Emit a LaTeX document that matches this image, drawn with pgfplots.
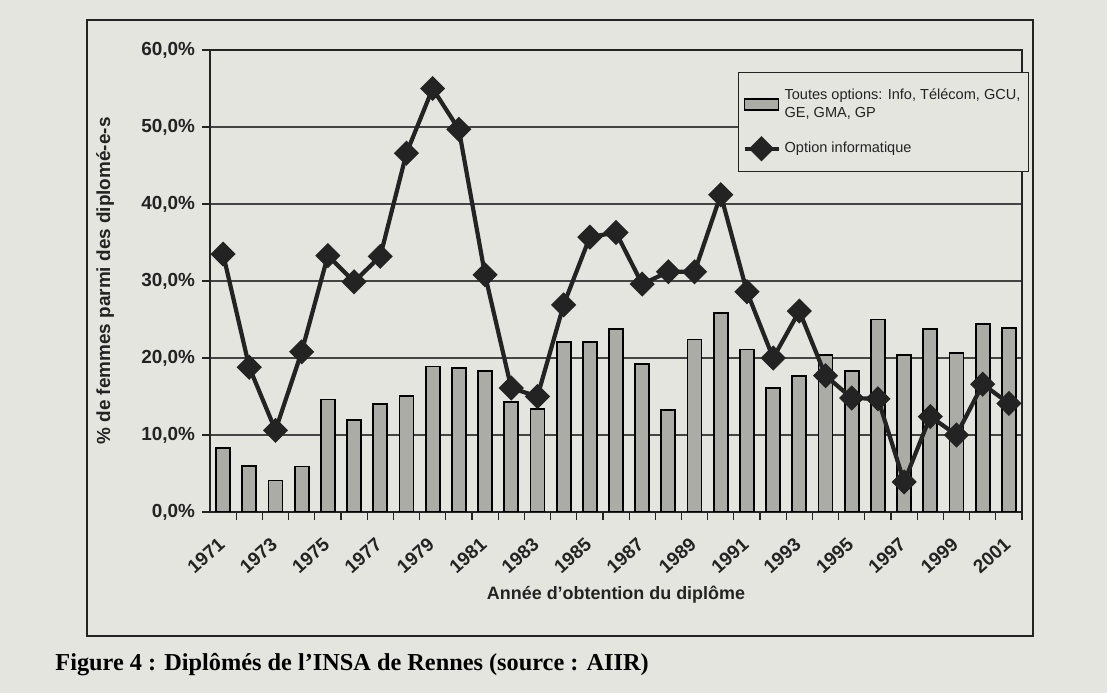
\documentclass[border=0pt]{standalone}
\usepackage{pgfplots}
\pgfplotsset{compat=1.18}
\usepackage{fontspec}
\setmainfont{Liberation Sans}
\newfontfamily\capfont{Liberation Serif}
\definecolor{paper}{RGB}{229,229,224}
\definecolor{barfill}{RGB}{172,172,166}
\definecolor{ink}{RGB}{35,35,35}

\pgfplotstableread{
year val
1971 8.3
1972 6.0
1973 4.1
1974 5.9
1975 14.6
1976 11.9
1977 14.0
1978 15.1
1979 18.9
1980 18.7
1981 18.3
1982 14.3
1983 13.4
1984 22.1
1985 22.1
1986 23.8
1987 19.2
1988 13.2
1989 22.4
1990 25.8
1991 21.1
1992 16.1
1993 17.7
1994 20.4
1995 18.3
1996 25.0
1997 20.4
1998 23.8
1999 20.7
2000 24.4
2001 23.9
}\toutes

\pgfplotstableread{
year val
1971 33.5
1972 18.8
1973 10.6
1974 20.8
1975 33.3
1976 29.9
1977 33.2
1978 46.6
1979 55.0
1980 49.7
1981 30.8
1982 16.1
1983 15.0
1984 26.9
1985 35.7
1986 36.3
1987 29.6
1988 31.2
1989 31.2
1990 41.2
1991 28.6
1992 20.0
1993 26.1
1994 17.7
1995 14.8
1996 14.7
1997 3.9
1998 12.4
1999 10.0
2000 16.6
2001 14.1
}\info

\begin{document}
\begin{tikzpicture}
\fill[paper] (0bp,0bp) rectangle (553.5bp,346.5bp);
\draw[ink, line width=0.7bp] (43.5bp,28.5bp) rectangle (516.5bp,336.5bp);
\node[anchor=west, inner sep=0pt, font=\capfont\bfseries\fontsize{12.2}{14}\selectfont] at (27.5bp,14bp)
  {Figure 4 : Diplômés de l’INSA de Rennes (source : AIIR)};
\begin{axis}[
  at={(105bp,90.5bp)}, anchor=south west,
  scale only axis, width=406bp, height=231bp,
  xmin=1970.5, xmax=2001.5, ymin=0, ymax=60,
  axis line style={ink, line width=0.7bp},
  xtick pos=bottom, ytick pos=left,
  ytick={0,10,20,30,40,50,60},
  yticklabels={{0,0\%},{10,0\%},{20,0\%},{30,0\%},{40,0\%},{50,0\%},{60,0\%}},
  yticklabel style={font=\bfseries\fontsize{9.5}{11}\selectfont, text=ink},
  xtick={1971.5,1972.5,1973.5,1974.5,1975.5,1976.5,1977.5,1978.5,1979.5,1980.5,1981.5,1982.5,1983.5,1984.5,1985.5,1986.5,1987.5,1988.5,1989.5,1990.5,1991.5,1992.5,1993.5,1994.5,1995.5,1996.5,1997.5,1998.5,1999.5,2000.5,2001.5},
  xticklabels={1971,,1973,,1975,,1977,,1979,,1981,,1983,,1985,,1987,,1989,,1991,,1993,,1995,,1997,,1999,,2001},
  xticklabel style={font=\bfseries\fontsize{9.5}{11}\selectfont, text=ink, rotate=42, anchor=east, xshift=-9bp, yshift=-3bp},
  tick align=outside, major tick length=4bp,
  tick style={ink, line width=0.6bp},
  ymajorgrids, xmajorgrids=false,
  grid style={ink!85, line width=0.6bp},
  xlabel={Année d'obtention du diplôme},
  xlabel style={at={(axis description cs:0.5,-0.18)}, anchor=center, font=\bfseries\fontsize{9}{11}\selectfont, text=ink},
  ylabel={\% de femmes parmi des diplomé-e-s},
  ylabel style={at={(axis description cs:-0.129,0.5)}, anchor=center, rotate=0, font=\bfseries\fontsize{9.5}{11}\selectfont, text=ink},
  legend style={at={(0.65,0.952)}, anchor=north west, draw=ink, line width=0.6bp, fill=paper,
    font=\fontsize{7.3}{8.8}\selectfont, text=ink, cells={anchor=west, align=left},
    inner xsep=2bp, inner ysep=6bp, row sep=7bp},
  legend cell align=left,
]
\addplot[ybar, bar width=7bp, fill=barfill, draw=black, line width=0.9bp, area legend]
  table[x=year, y=val] {\toutes};
\addlegendentry{Toutes options: Info, Télécom, GCU,\\GE, GMA, GP}
\addplot[ink, line width=2.1bp, mark=square*, mark size=3.4bp, mark options={rotate=45, solid, fill=ink}]
  table[x=year, y=val] {\info};
\addlegendentry{Option informatique}
\end{axis}
\end{tikzpicture}
\end{document}
